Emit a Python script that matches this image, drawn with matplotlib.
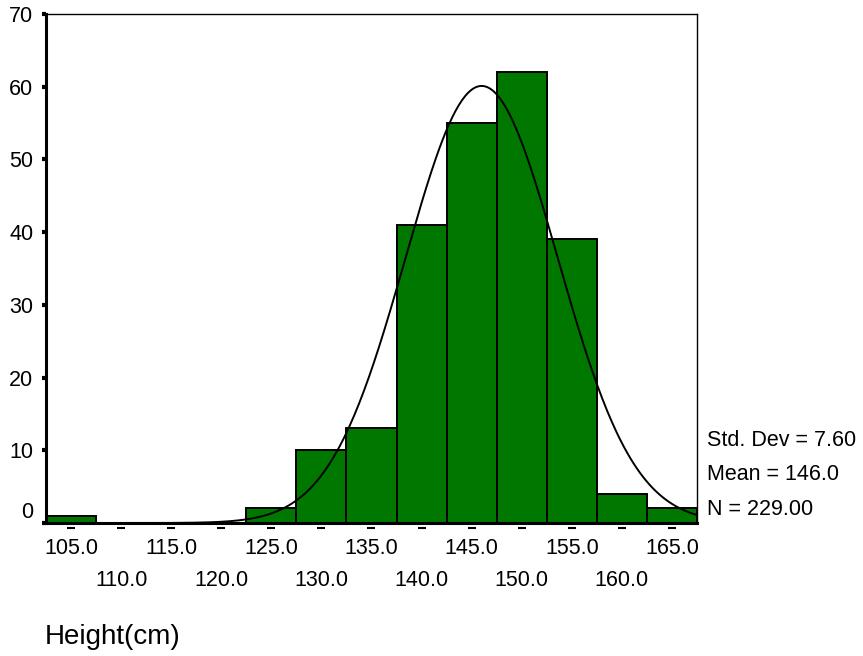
import numpy as np
import matplotlib
matplotlib.use('Agg')
import matplotlib.pyplot as plt
import matplotlib.transforms as mtrans

plt.rcParams['font.family'] = ['Liberation Sans', 'DejaVu Sans']

# histogram of heights (bin centres, 5 cm wide)
bin_centers = [105, 110, 115, 120, 125, 130, 135, 140, 145, 150, 155, 160, 165]
counts = [1, 0, 0, 0, 2, 10, 13, 41, 55, 62, 39, 4, 2]
bin_width = 5
std_dev = 7.60
mean = 146.0
n_obs = 229
y_ticks = [0, 10, 20, 30, 40, 50, 60, 70]
stats_labels = ['Std. Dev = 7.60', 'Mean = 146.0', 'N = 229.00']

fig = plt.figure(figsize=(8.63, 6.56), dpi=100)
ax = fig.add_axes([0.0533, 0.2027, 0.7543, 0.776])

ax.bar(bin_centers, counts, width=bin_width, color='#007800',
       edgecolor='black', linewidth=1.4, zorder=2)

# fitted normal curve
xs = np.linspace(102.5, 167.5, 400)
ys = n_obs * bin_width / (std_dev * np.sqrt(2 * np.pi)) * np.exp(-0.5 * ((xs - mean) / std_dev) ** 2)
ax.plot(xs, ys, color='black', linewidth=1.4, zorder=3)

ax.set_xlim(102.5, 167.5)
ax.set_ylim(0, 70)

ax.set_yticks(y_ticks)
ax.set_yticklabels([str(v) for v in y_ticks], fontsize=15.5)
ax.tick_params(axis='y', direction='out', length=3, width=3, pad=6)
ax.get_yticklabels()[0].set_va('bottom')

# alternating two-row x labels
ax.set_xticks(bin_centers[::2])
ax.set_xticklabels([f'{v:.1f}' for v in bin_centers[::2]], fontsize=15.5)
ax.set_xticks(bin_centers[1::2], minor=True)
ax.set_xticklabels([f'{v:.1f}' for v in bin_centers[1::2]], minor=True, fontsize=15.5)
ax.tick_params(axis='x', which='major', length=0, pad=11)
ax.tick_params(axis='x', which='minor', length=0, pad=34)

# small dashes under each bin
trans = mtrans.blended_transform_factory(ax.transData, ax.transAxes) + \
    mtrans.ScaledTranslation(0, -5 / 100, fig.dpi_scale_trans)
ax.plot(bin_centers, [0] * len(bin_centers), linestyle='none', marker='_',
        markersize=6, markeredgewidth=1.5, color='black', transform=trans, clip_on=False)

ax.spines['left'].set_linewidth(2.2)
ax.spines['bottom'].set_linewidth(2.2)
ax.spines['top'].set_linewidth(1.0)
ax.spines['right'].set_linewidth(1.0)

for label, ypos in zip(stats_labels, [0.328, 0.277, 0.224]):
    fig.text(0.819, ypos, label, fontsize=15.5, va='center', ha='left')

fig.text(0.052, 0.029, 'Height(cm)', fontsize=20, va='center', ha='left')

fig.savefig('out.png', dpi=100)
